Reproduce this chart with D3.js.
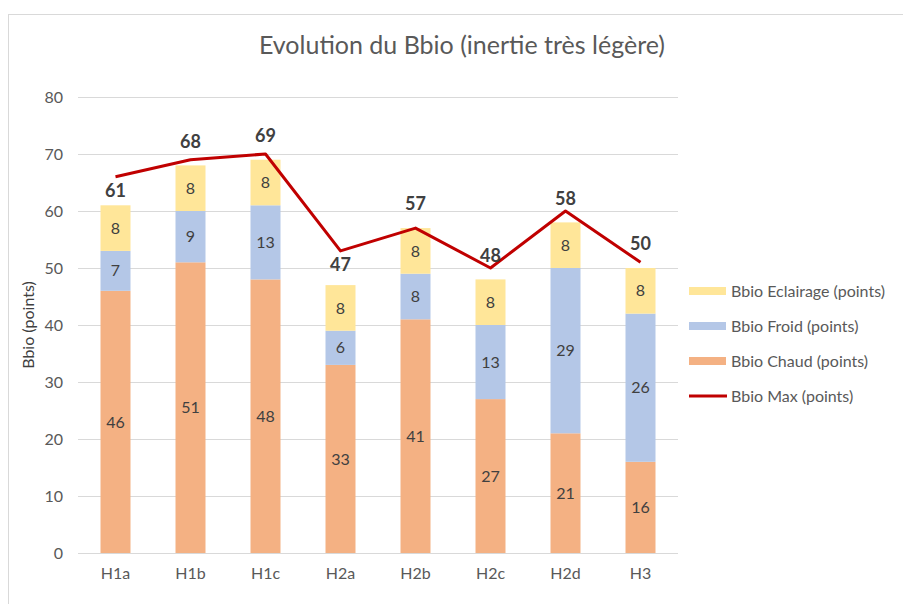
<!DOCTYPE html>
<html><head><meta charset="utf-8">
<script src="https://cdn.jsdelivr.net/npm/d3@7"></script>
<style>body{margin:0;background:#fff}svg{display:block}text{font-family:Lato,"Open Sans",sans-serif}</style>
</head><body><svg id="c" width="903" height="604"></svg>
<script>
const categories=["H1a","H1b","H1c","H2a","H2b","H2c","H2d","H3"];
const chaud=[46,51,48,33,41,27,21,16];
const froid=[7,9,13,6,8,13,29,26];
const eclairage=[8,8,8,8,8,8,8,8];
const totals=[61,68,69,47,57,48,58,50];
const bbioMax=[66,69,70,53,57,50,60,51];
const yTicks=[0,10,20,30,40,50,60,70,80];
const seriesNames=["Bbio Eclairage (points)","Bbio Froid (points)","Bbio Chaud (points)","Bbio Max (points)"];

const svg=d3.select("#c");
svg.append("rect").attr("x",8.5).attr("y",14.5).attr("width",900).attr("height",600).attr("fill","#fff").attr("stroke","#d9d9d9");
const x=d3.scaleBand().domain(categories).range([78,678]).paddingInner(0.6).paddingOuter(0.3);
const y=d3.scaleLinear().domain([0,80]).range([553,97]);
const g=svg.append("g");
g.selectAll("line.grid").data(yTicks).join("line").attr("x1",78).attr("x2",678)
 .attr("y1",d=>y(d)+0.5).attr("y2",d=>y(d)+0.5).attr("stroke","#d9d9d9").attr("stroke-width",1);
const yAxis=d3.axisLeft(y).tickValues(yTicks).tickSize(0).tickPadding(15);
const ya=svg.append("g").attr("transform","translate(78,0)").call(yAxis);
ya.select(".domain").remove();
ya.selectAll("text").attr("font-size",16).attr("fill","#595959").style("font-family","Lato,sans-serif");
const xAxis=d3.axisBottom(x).tickSize(0).tickPadding(15);
const xa=svg.append("g").attr("transform","translate(0,553)").call(xAxis);
xa.select(".domain").remove();
xa.selectAll("text").attr("font-size",16).attr("fill","#595959").style("font-family","Lato,sans-serif");

const data=categories.map((c,i)=>({cat:c,chaud:chaud[i],froid:froid[i],eclairage:eclairage[i]}));
const keys=["chaud","froid","eclairage"];
const colors={chaud:"#F4B183",froid:"#B4C7E7",eclairage:"#FFE699"};
const stack=d3.stack().keys(keys)(data);
stack.forEach(s=>{
  g.selectAll(null).data(s).join("rect").attr("x",d=>x(d.data.cat)).attr("width",x.bandwidth())
   .attr("y",d=>y(d[1])).attr("height",d=>y(d[0])-y(d[1])).attr("fill",colors[s.key]);
  g.selectAll(null).data(s).join("text").attr("x",d=>x(d.data.cat)+x.bandwidth()/2)
   .attr("y",d=>(y(d[0])+y(d[1]))/2).attr("dy","0.35em").attr("text-anchor","middle")
   .attr("font-size",16).attr("fill","#404040").text(d=>d[1]-d[0]);
});
const line=d3.line().x((d,i)=>x(categories[i])+x.bandwidth()/2).y(d=>y(d));
g.append("path").datum(bbioMax).attr("d",line).attr("fill","none").attr("stroke","#C00000").attr("stroke-width",3).attr("stroke-linejoin","round");
function labelY(d,i){
  let ly=y(d)-24; const lineY=y(bbioMax[i]);
  if(Math.abs(ly-lineY)<12 && bbioMax[i]>d) ly=Math.min(lineY+14,y(d)-15);
  return ly;
}
g.selectAll("text.tot").data(totals).join("text").attr("class","tot")
 .attr("x",(d,i)=>x(categories[i])+x.bandwidth()/2).attr("y",labelY).attr("dy","0.35em")
 .attr("text-anchor","middle").attr("font-size",18).attr("font-weight","bold").attr("fill","#404040").text(d=>d);

svg.append("text").attr("x",462).attr("y",54).attr("text-anchor","middle").attr("font-size",25).attr("fill","#595959").text("Evolution du Bbio (inertie très légère)");
svg.append("text").attr("transform","translate(34,325) rotate(-90)").attr("text-anchor","middle").attr("font-size",16).attr("fill","#404040").text("Bbio (points)");

const leg=svg.append("g");
const legColors=["#FFE699","#B4C7E7","#F4B183","#C00000"];
seriesNames.forEach((n,i)=>{
  const yy=291+i*35;
  if(i<3) leg.append("rect").attr("x",689).attr("y",yy-4).attr("width",37).attr("height",8).attr("fill",legColors[i]);
  else leg.append("line").attr("x1",689).attr("x2",727).attr("y1",yy).attr("y2",yy).attr("stroke",legColors[i]).attr("stroke-width",3);
  leg.append("text").attr("x",731).attr("y",yy).attr("dy","0.35em").attr("font-size",16).attr("fill","#595959").text(n);
});
</script></body></html>
